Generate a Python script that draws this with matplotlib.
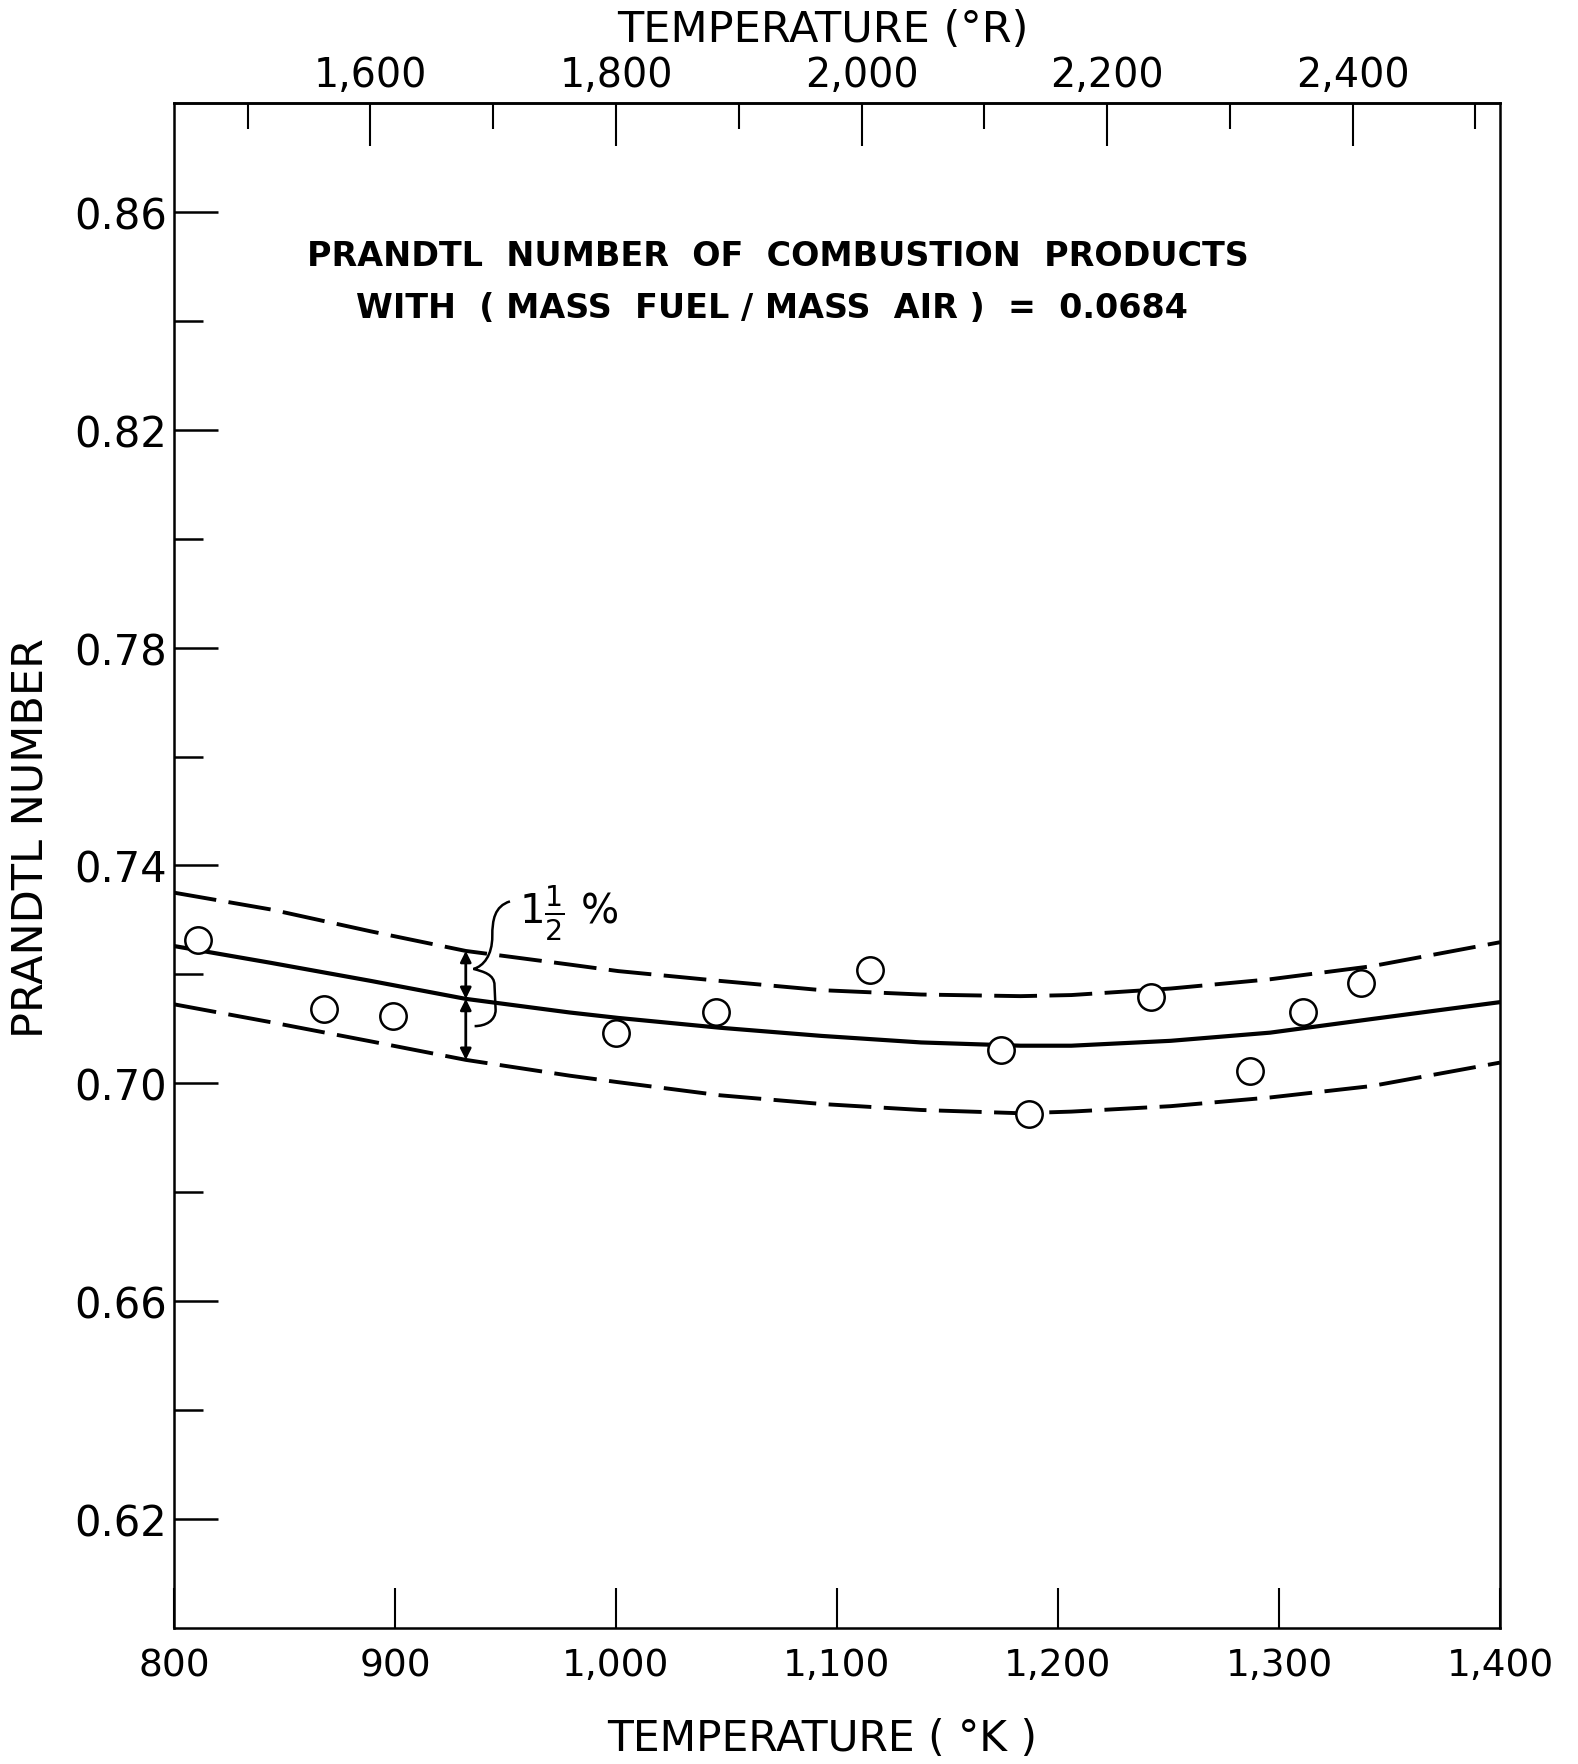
import numpy as np
import matplotlib.pyplot as plt
from matplotlib.path import Path
from matplotlib.patches import PathPatch

# measured points (deg K, Prandtl number)
temp_pts = [811, 868, 899, 1000, 1045, 1115, 1174, 1187, 1242, 1287, 1311, 1337]
pr_pts = [0.7263, 0.7137, 0.7124, 0.7093, 0.7130, 0.7208, 0.7061, 0.6944, 0.7159, 0.7023, 0.7130, 0.7185]

# faired curve and the +/- 1 1/2 % band
temp_curve = [800, 844, 889, 932, 979, 1001, 1047, 1093, 1138, 1183, 1206, 1251, 1296, 1342, 1400]
pr_mean = [0.7252, 0.7221, 0.7188, 0.7155, 0.7130, 0.7120, 0.7102, 0.7087, 0.7075, 0.7069, 0.7069, 0.7078, 0.7093, 0.7118, 0.7149]
pr_upper = [0.7350, 0.7319, 0.7279, 0.7243, 0.7218, 0.7206, 0.7188, 0.7171, 0.7163, 0.7160, 0.7162, 0.7174, 0.7191, 0.7215, 0.7259]
pr_lower = [0.7145, 0.7112, 0.7077, 0.7043, 0.7014, 0.7002, 0.6978, 0.6962, 0.6951, 0.6945, 0.6948, 0.6958, 0.6974, 0.6995, 0.7038]

x_ticks = [800, 900, 1000, 1100, 1200, 1300, 1400]
x_labels = ["800", "900", "1,000", "1,100", "1,200", "1,300", "1,400"]
r_ticks = [1600, 1800, 2000, 2200, 2400]
r_labels = ["1,600", "1,800", "2,000", "2,200", "2,400"]
r_minor = [1500, 1700, 1900, 2100, 2300, 2500]
y_ticks = [0.62, 0.66, 0.70, 0.74, 0.78, 0.82, 0.86]
y_labels = ["0.62", "0.66", "0.70", "0.74", "0.78", "0.82", "0.86"]
y_minor = [0.64, 0.68, 0.72, 0.76, 0.80, 0.84]

arrow_k = 932

fig = plt.figure(figsize=(15.78, 17.65), dpi=100)
ax = fig.add_axes([0.1103, 0.0771, 0.8403, 0.864])

dash = (0, (11, 3.2))
ax.plot(temp_curve, pr_mean, color="black", lw=3.0, solid_capstyle="round", solid_joinstyle="round")
ax.plot(temp_curve, pr_upper, color="black", lw=2.8, linestyle=dash)
ax.plot(temp_curve, pr_lower, color="black", lw=2.8, linestyle=dash)
ax.plot(temp_pts, pr_pts, "o", ms=19, mfc="white", mec="black", mew=1.8, zorder=5)

# band width arrows
up = np.interp(arrow_k, temp_curve, pr_upper)
mid = np.interp(arrow_k, temp_curve, pr_mean)
lo = np.interp(arrow_k, temp_curve, pr_lower)
for a, b in [(up, mid), (mid, lo)]:
    ax.annotate("", xy=(arrow_k, a), xytext=(arrow_k, b),
                arrowprops=dict(arrowstyle="<|-|>", lw=2, color="black",
                                mutation_scale=16, shrinkA=0, shrinkB=0))

# brace next to the arrows
bk = arrow_k
verts = [(bk + 20, up + 0.0091), (bk + 13, up + 0.0082), (bk + 12, up + 0.0057), (bk + 12, up + 0.0027),
         (bk + 12, up - 0.0008), (bk + 8, up - 0.0028), (bk + 3.5, up - 0.0033),
         (bk + 8, up - 0.0038), (bk + 13, up - 0.0043), (bk + 13, up - 0.0063),
         (bk + 13.5, lo + 0.0092),
         (bk + 13.5, lo + 0.0072), (bk + 9, lo + 0.0062), (bk + 4, lo + 0.0062)]
codes = [Path.MOVETO, Path.CURVE4, Path.CURVE4, Path.CURVE4,
         Path.CURVE4, Path.CURVE4, Path.CURVE4,
         Path.CURVE4, Path.CURVE4, Path.CURVE4,
         Path.LINETO,
         Path.CURVE4, Path.CURVE4, Path.CURVE4]
ax.add_patch(PathPatch(Path(verts, codes), fc="none", ec="black", lw=1.8))
ax.text(bk + 24, up + 0.0071, r"$1\frac{1}{2}$ %", fontsize=29, ha="left", va="center")

ax.text(0.455, 0.900, "PRANDTL  NUMBER  OF  COMBUSTION  PRODUCTS", transform=ax.transAxes,
        ha="center", va="center", fontsize=24, fontweight="bold")
ax.text(0.451, 0.866, "WITH  ( MASS  FUEL / MASS  AIR )  =  0.0684", transform=ax.transAxes,
        ha="center", va="center", fontsize=24, fontweight="bold")

ax.set_xlim(800, 1400)
ax.set_ylim(0.60, 0.88)
ax.set_xticks(x_ticks, x_labels)
ax.set_yticks(y_ticks, y_labels)
ax.set_yticks(y_minor, minor=True)
ax.tick_params(axis="x", direction="in", length=29, width=1.5, pad=14, labelsize=27)
ax.tick_params(axis="y", which="major", direction="in", length=32, width=1.8, pad=5, labelsize=30)
ax.tick_params(axis="y", which="minor", direction="in", length=21, width=1.8)
for s in ax.spines.values():
    s.set_linewidth(1.8)

sec = ax.secondary_xaxis("top", functions=(lambda k: k * 1.8, lambda r: r / 1.8))
sec.set_xticks(r_ticks, r_labels)
sec.set_xticks(r_minor, minor=True)
sec.tick_params(which="major", direction="in", length=31, width=1.5, pad=6, labelsize=28.5)
sec.tick_params(which="minor", direction="in", length=19, width=1.5)
sec.spines["top"].set_linewidth(1.8)

ax.set_xlabel("TEMPERATURE ( °K )", fontsize=30.5)
ax.xaxis.set_label_coords(0.489, -0.072)
ax.xaxis.label.set_va("center")
fig.text(0.5215, 0.983, "TEMPERATURE (°R)", fontsize=31, ha="center", va="center")
ax.set_ylabel("PRANDTL NUMBER", fontsize=31)
ax.yaxis.set_label_coords(-0.1086, 0.5187)
ax.yaxis.label.set_va("center")

plt.savefig("out.png", dpi=100)
